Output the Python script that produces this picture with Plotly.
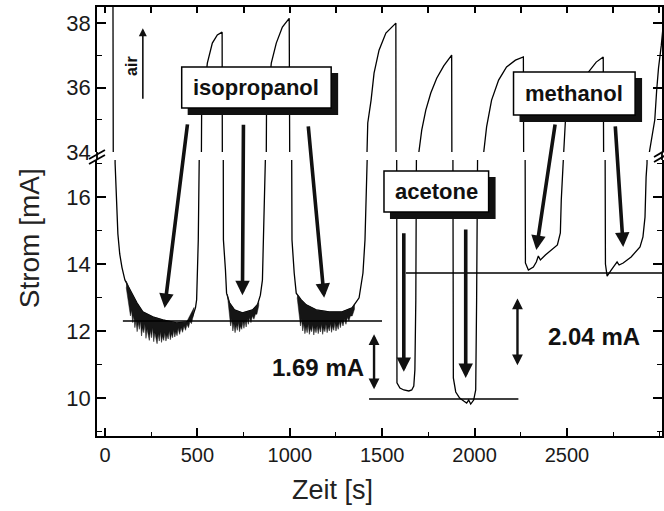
import plotly.graph_objects as go

# ---------------------------------------------------------------
# Sensor current over time (three analytes, broken y axis)
# ---------------------------------------------------------------
zeit_s = [
    43, 45, 55, 62, 70, 80, 92, 108, 135, 173, 205, 259, 313, 388, 442, 474, 490, 496, 501, 505, 510,
    522, 523, 554, 581, 608, 634,
    641, 652, 658, 674, 701, 744, 798, 825, 841, 852, 857, 863,
    873, 874, 900, 927, 960, 997,
    1012, 1024, 1035, 1062, 1089, 1143, 1213, 1283, 1337, 1375, 1396, 1407, 1413,
    1418, 1422, 1440, 1456, 1483, 1520, 1574,
    1576, 1580, 1596, 1617, 1644, 1660, 1671, 1677, 1682, 1685,
    1698, 1714, 1736, 1763, 1795, 1833, 1860, 1876,
    1885, 1898, 1919, 1941, 1957, 1968, 1979, 1995, 2006, 2011, 2016,
    2049, 2065, 2092, 2130, 2173, 2221, 2264,
    2275, 2291, 2318, 2334, 2345, 2356, 2383, 2415, 2448, 2464, 2469, 2480,
    2482, 2491, 2518, 2561, 2615, 2658, 2696,
    2708, 2712, 2717, 2739, 2760, 2771, 2782, 2804, 2847, 2895, 2911, 2922, 2928, 2933,
    2945, 2975, 2985, 2995, 3010, 3020,
]
strom_mA = [
    40.0, 34.0, 17.0, 16.0, 14.9, 14.3, 13.9, 13.52, 13.22, 12.84, 12.57, 12.42, 12.33, 12.24, 12.27, 12.42, 12.7, 12.93, 13.91, 14.72, 17.1,
    34.0, 35.15, 36.76, 37.38, 37.63, 37.72,
    14.72, 13.82, 13.13, 12.84, 12.63, 12.54, 12.63, 12.78, 13.07, 13.52, 14.72, 17.1,
    34.0, 35.15, 36.76, 37.38, 37.88, 38.15,
    14.72, 13.73, 13.13, 12.93, 12.78, 12.63, 12.57, 12.57, 12.69, 12.99, 13.73, 14.72, 17.1,
    34.0, 34.9, 35.61, 36.45, 37.16, 37.69, 38.0,
    10.84, 10.45, 10.30, 10.24, 10.21, 10.24, 10.36, 10.84, 12.93, 17.1,
    33.97, 34.68, 35.30, 35.83, 36.29, 36.67, 36.88, 37.01,
    10.6, 10.18, 10.0, 9.91, 9.85, 9.94, 9.82, 9.94, 10.24, 12.93, 17.1,
    33.97, 34.78, 35.61, 36.23, 36.64, 36.85, 36.95,
    14.03, 13.82, 13.91, 14.06, 14.24, 14.12, 14.27, 14.42, 14.57, 14.93, 15.91, 17.1,
    33.97, 34.93, 35.61, 36.08, 36.48, 36.79, 36.95,
    14.0, 13.73, 13.64, 13.82, 13.97, 14.06, 13.97, 14.03, 14.21, 14.51, 14.81, 15.40, 16.6, 17.0,
    33.97, 35.0, 35.9, 36.6, 37.3, 37.9,
]

# Noise bands in the isopropanol minima: jagged lower edge, then the upper edge back
rausch1_t = [115, 124, 132, 138, 144, 150, 156, 162, 168, 174, 180, 186, 192, 198, 204, 210, 216, 222,
             228, 234, 240, 246, 252, 258, 264, 270, 276, 282, 288, 294, 300, 306, 312, 318, 324, 330,
             336, 342, 348, 354, 360, 366, 372, 378, 384, 390, 396, 404, 412, 420, 428, 436, 444, 452,
             460, 468, 476, 482,
             482, 442, 388, 313, 259, 205, 173, 135, 115]
rausch1_mA = [13.3, 13.0, 12.75, 12.45, 12.62, 12.25, 12.45, 12.1, 12.32, 11.98, 12.25, 12.05, 12.3, 11.85, 12.1, 11.95, 12.2, 11.78,
              12.05, 11.9, 11.72, 12.02, 11.8, 12.1, 11.68, 11.95, 11.75, 11.62, 11.9, 11.7, 11.98, 11.66, 11.85, 11.72, 11.95, 11.7,
              11.88, 11.76, 12.0, 11.74, 11.92, 11.8, 12.02, 11.82, 11.98, 11.86, 12.08, 11.9, 12.1, 11.96, 12.15, 12.02, 12.2, 12.1,
              12.28, 12.22, 12.42, 12.6,
              12.7, 12.27, 12.24, 12.33, 12.42, 12.57, 12.84, 13.22, 13.5]

rausch2_t = [662, 668, 674, 680, 686, 692, 698, 704, 710, 716, 722, 728, 734, 740, 746, 752, 758, 764,
             770, 776, 782, 790, 798, 806, 814, 822, 832,
             832, 798, 744, 701, 674, 662]
rausch2_mA = [13.1, 12.75, 12.45, 12.15, 12.35, 12.0, 12.22, 11.95, 12.18, 12.02, 12.25, 11.98, 12.15, 12.05, 12.28, 12.08, 12.3, 12.12,
              12.35, 12.2, 12.4, 12.25, 12.45, 12.35, 12.5, 12.5, 12.75,
              12.85, 12.63, 12.54, 12.63, 12.84, 13.1]

rausch3_t = [1040, 1046, 1052, 1058, 1064, 1070, 1076, 1082, 1088, 1094, 1100, 1106, 1112, 1118, 1124, 1130, 1136,
             1142, 1148, 1154, 1160, 1166, 1172, 1178, 1184, 1190, 1196, 1202, 1208, 1214, 1220, 1226, 1232,
             1238, 1244, 1250, 1256, 1262, 1268, 1274, 1280, 1288, 1296, 1304, 1312, 1320, 1328, 1338, 1350,
             1350, 1337, 1283, 1213, 1143, 1089, 1062, 1040]
rausch3_mA = [13.0, 12.7, 12.4, 12.15, 12.35, 12.0, 12.22, 11.92, 12.12, 11.95, 12.2, 11.9, 12.08, 11.98, 12.18, 11.88, 12.1,
              11.95, 12.15, 11.92, 12.12, 11.97, 12.2, 11.9, 12.1, 11.98, 12.2, 11.95, 12.12, 12.0, 12.22, 11.96, 12.15,
              12.02, 12.25, 12.0, 12.18, 12.05, 12.28, 12.1, 12.3, 12.15, 12.35, 12.2, 12.4, 12.3, 12.45, 12.45, 12.65,
              12.8, 12.69, 12.57, 12.57, 12.63, 12.78, 12.93, 13.1]

# Baseline levels for the three analytes
basis_iso_t, basis_iso_mA = [97, 1499], [12.30, 12.30]
basis_ace_t, basis_ace_mA = [1429, 2237], [9.97, 9.97]
basis_meth_t, basis_meth_mA = [1628, 3030], [13.73, 13.73]

# Current differences marked with double arrows
diff_labels = ["1.69 mA", "2.04 mA"]
diff_values = [1.69, 2.04]
diff_mitte_mA = [11.06, 11.95]
diff_t = [1456, 2232]

x_ticks = [0, 500, 1000, 1500, 2000, 2500]
y_ticks_unten = [10, 12, 14, 16]
y_ticks_oben = [34, 36, 38]

# ---------------------------------------------------------------
W, H = 664, 511
ML, MR, MT, MB = 97, 0, 7, 75
PW, PH = W - ML - MR, H - MT - MB
FONT = "Liberation Sans, Arial, Helvetica, sans-serif"


def paper(xp, yp):
    """Pixel position in the page -> paper coordinates."""
    return (xp - ML) / PW, (H - MB - yp) / PH


fig = go.Figure()

line_style = dict(color="black", width=1.3)
for xa, ya in (("x", "y"), ("x2", "y2")):
    fig.add_trace(go.Scatter(x=zeit_s, y=strom_mA, mode="lines", line=line_style,
                             xaxis=xa, yaxis=ya, showlegend=False, hoverinfo="skip"))

for rt, rm in ((rausch1_t, rausch1_mA), (rausch2_t, rausch2_mA), (rausch3_t, rausch3_mA)):
    fig.add_trace(go.Scatter(x=rt, y=rm, mode="lines", fill="toself", fillcolor="#151515",
                             line=dict(color="#151515", width=0.5), xaxis="x", yaxis="y",
                             showlegend=False, hoverinfo="skip"))

for bt, bm in ((basis_iso_t, basis_iso_mA), (basis_ace_t, basis_ace_mA), (basis_meth_t, basis_meth_mA)):
    fig.add_trace(go.Scatter(x=bt, y=bm, mode="lines", line=dict(color="black", width=1.4),
                             xaxis="x", yaxis="y", showlegend=False, hoverinfo="skip"))

axis_common = dict(showline=True, linecolor="black", linewidth=1.8, showgrid=False,
                   zeroline=False, ticks="inside", tickcolor="black", tickwidth=1.5)

lower_top = (H - MB - 160) / PH
upper_bot = (H - MB - 152) / PH

fig.update_layout(
    width=W, height=H,
    margin=dict(l=ML, r=MR, t=MT, b=MB),
    paper_bgcolor="white", plot_bgcolor="white",
    font=dict(family=FONT, color="black"),
    xaxis=dict(axis_common, domain=[0, 1], anchor="y", range=[-43, 3014],
               tickvals=x_ticks, ticklen=8,
               minor=dict(dtick=250, tick0=0, ticklen=4, ticks="inside", tickcolor="black", tickwidth=1.2),
               tickfont=dict(size=20, family=FONT, color="#1a1a1a")),
    xaxis2=dict(axis_common, domain=[0, 1], anchor="y2", side="top", matches="x",
                range=[-43, 3014], dtick=250, tick0=0, ticklen=6, showticklabels=False),
    yaxis=dict(axis_common, domain=[0, lower_top], anchor="x", range=[8.866, 17.104],
               tickvals=y_ticks_unten, ticklen=9, mirror="ticks",
               minor=dict(dtick=1, tick0=0, ticklen=5, ticks="inside", tickcolor="black", tickwidth=1.2),
               tickfont=dict(size=22, family=FONT, color="#1a1a1a")),
    yaxis2=dict(axis_common, domain=[upper_bot, 1], anchor="x2", range=[34, 38.5],
                tickvals=y_ticks_oben, ticklen=9, mirror="ticks",
                minor=dict(dtick=1, tick0=0, ticklen=5, ticks="inside", tickcolor="black", tickwidth=1.2),
                tickfont=dict(size=22, family=FONT, color="#1a1a1a")),
)

shapes = []
# close the axis lines across the break and draw the break marks
for xp in (97, W):
    x0, y0 = paper(xp, 152)
    x1, y1 = paper(xp, 160)
    shapes.append(dict(type="line", xref="paper", yref="paper", x0=x0, y0=y0, x1=x1, y1=y1,
                       line=dict(color="black", width=1.8)))
for (xa, ya, xb, yb) in ((89, 159, 105, 150), (89, 164, 105, 155), (656, 157, 668, 150), (656, 162, 668, 155)):
    x0, y0 = paper(xa, ya)
    x1, y1 = paper(xb, yb)
    shapes.append(dict(type="line", xref="paper", yref="paper", x0=x0, y0=y0, x1=x1, y1=y1,
                       line=dict(color="black", width=1.8)))

# label boxes with drop shadow
boxes = [
    ("isopropanol", (182, 67, 332, 108)),
    ("acetone", (385, 171, 490, 212)),
    ("methanol", (515, 72, 637, 115)),
]
annotations = []
for text, (bx0, by0, bx1, by1) in boxes:
    sx0, sy0 = paper(bx0 + 6, by1 + 7)
    sx1, sy1 = paper(bx1 + 7, by0 + 6)
    shapes.append(dict(type="rect", xref="paper", yref="paper", x0=sx0, y0=sy0, x1=sx1, y1=sy1,
                       fillcolor="#111111", line=dict(width=0), layer="above"))
    px0, py0 = paper(bx0, by1)
    px1, py1 = paper(bx1, by0)
    shapes.append(dict(type="rect", xref="paper", yref="paper", x0=px0, y0=py0, x1=px1, y1=py1,
                       fillcolor="white", line=dict(color="black", width=1.5), layer="above"))
    cx, cy = paper((bx0 + bx1) / 2, (by0 + by1) / 2)
    annotations.append(dict(text=f"<b>{text}</b>", x=cx, y=cy, xref="paper", yref="paper",
                            showarrow=False, font=dict(size=22, family=FONT, color="#111111"),
                            xanchor="center", yanchor="middle"))

# thick arrows from the labels down to the responses: tip (t, mA), tail offset in pixels
pointer_arrows = [
    (323, 12.69, 23, -185), (744, 13.07, 1, -172), (1186, 12.99, -16, -173),
    (1617, 10.78, 0, -140), (1952, 10.60, 0, -150),
    (2334, 14.42, 19, -127), (2804, 14.51, -8, -122),
]
for t, mA, ax, ay in pointer_arrows:
    annotations.append(dict(x=t, y=mA, xref="x", yref="y", ax=ax, ay=ay, text="",
                            showarrow=True, arrowhead=2, arrowsize=0.8, arrowwidth=3.6,
                            arrowcolor="#111111", standoff=0, startstandoff=0))

# air arrow
annotations.append(dict(x=205, y=37.84, xref="x2", yref="y2", ax=0, ay=72, text="",
                        showarrow=True, arrowhead=2, arrowsize=1.0, arrowwidth=1.6,
                        arrowcolor="#111111", standoff=0))
ax_, ay_ = paper(131, 66)
annotations.append(dict(text="<b>air</b>", x=ax_, y=ay_, xref="paper", yref="paper", showarrow=False,
                        textangle=-90, font=dict(size=16, family=FONT, color="#111111"),
                        xanchor="center", yanchor="middle"))

# difference arrows and their values
diff_text_px = [(319, 367), (596, 337)]
for t, mitte, val, lab, (tx, ty) in zip(diff_t, diff_mitte_mA, diff_values, diff_labels, diff_text_px):
    annotations.append(dict(x=t, y=mitte + val / 2, ax=t, ay=mitte - val / 2,
                            xref="x", yref="y", axref="x", ayref="y", text="",
                            showarrow=True, arrowhead=2, arrowside="end+start", arrowsize=0.9,
                            arrowwidth=2.4, arrowcolor="#111111", standoff=0, startstandoff=0))
    cx, cy = paper(tx, ty)
    annotations.append(dict(text=f"<b>{lab}</b>", x=cx, y=cy, xref="paper", yref="paper",
                            showarrow=False, font=dict(size=24, family=FONT, color="#111111"),
                            xanchor="center", yanchor="middle"))

# axis titles
tx, ty = paper(333, 490)
annotations.append(dict(text="Zeit [s]", x=tx, y=ty, xref="paper", yref="paper", showarrow=False,
                        font=dict(size=27, family=FONT, color="#222222"), xanchor="center", yanchor="middle"))
tx, ty = paper(29, 238)
annotations.append(dict(text="Strom [mA]", x=tx, y=ty, xref="paper", yref="paper", showarrow=False,
                        textangle=-90, font=dict(size=28, family=FONT, color="#222222"),
                        xanchor="center", yanchor="middle"))

fig.update_layout(shapes=shapes, annotations=annotations)
fig.write_html("out.html")
